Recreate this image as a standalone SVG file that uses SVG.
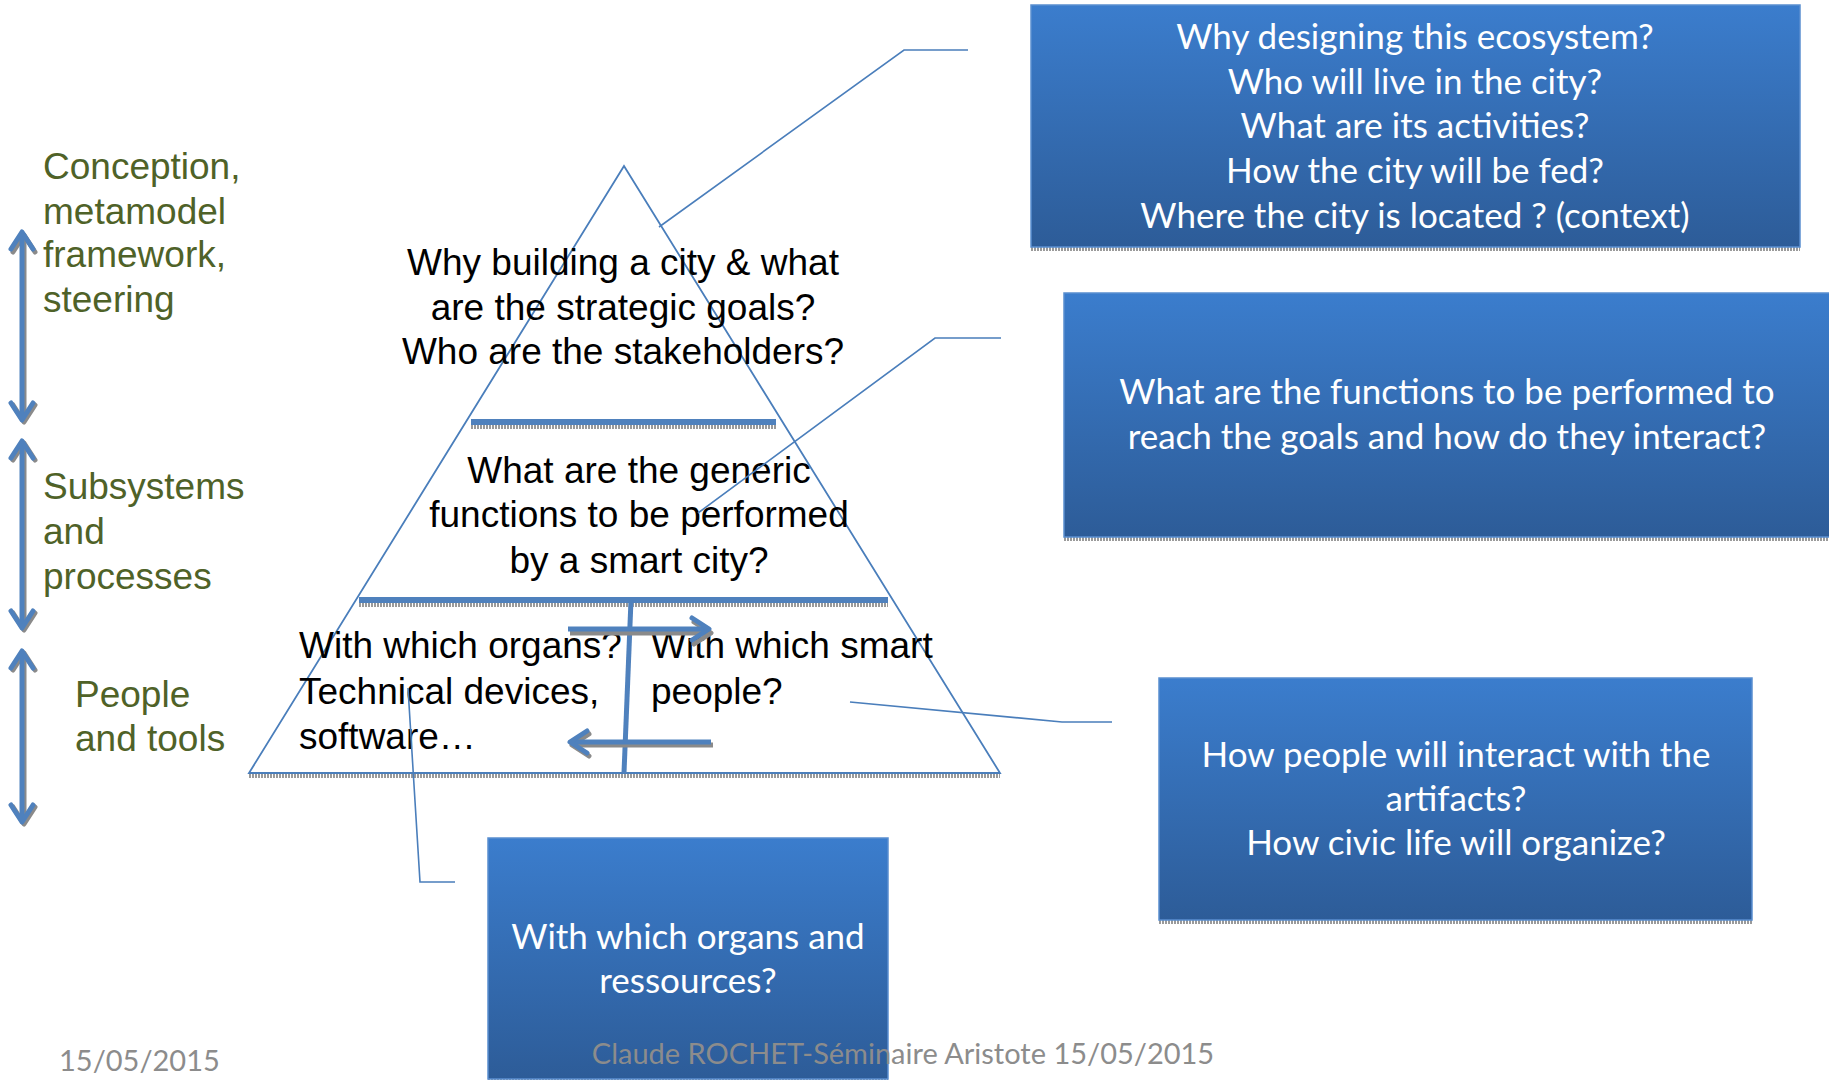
<svg xmlns="http://www.w3.org/2000/svg" width="1829" height="1080" viewBox="0 0 1829 1080">
<defs>
<linearGradient id="boxg" x1="0" y1="0" x2="0" y2="1">
<stop offset="0" stop-color="#3B7DCD"/>
<stop offset="1" stop-color="#2D5C98"/>
</linearGradient>
<marker id="chev" markerUnits="userSpaceOnUse" viewBox="0 0 24 28" refX="20" refY="14" markerWidth="24" markerHeight="28" orient="auto-start-reverse">
<path d="M3,3 L20,14 L3,25" fill="none" stroke="#4F81BD" stroke-width="5" stroke-linecap="round" stroke-linejoin="round"/>
</marker>
<marker id="chevs" markerUnits="userSpaceOnUse" viewBox="0 0 24 28" refX="20" refY="14" markerWidth="24" markerHeight="28" orient="auto-start-reverse">
<path d="M3,3 L20,14 L3,25" fill="none" stroke="#8a8a8a" stroke-width="5" stroke-linecap="round" stroke-linejoin="round"/>
</marker>
<style>
.box{fill:url(#boxg);stroke:#5A8ED0;stroke-width:1.5}
.bshadow{stroke:#9a9a9a;stroke-width:4;stroke-dasharray:2 1}
.bt{font-family:Lato,"Open Sans",sans-serif;font-size:35px;fill:#ffffff;text-anchor:middle}
.pt{font-family:"Liberation Sans",Arial,sans-serif;font-size:37px;fill:#000000}
.gt{font-family:"Liberation Sans",Arial,sans-serif;font-size:37px;fill:#4F6228}
.thin{fill:none;stroke:#4A7EBB;stroke-width:1.6}
.thick{fill:none;stroke:#4F81BD;stroke-width:6}
.tshadow{fill:none;stroke:#9a9a9a;stroke-width:4;stroke-dasharray:2 1}
.foot{font-family:Lato,"Open Sans",sans-serif;font-size:29px;fill:#8C8C8C}
</style>
</defs>

<g id="side-arrows">
<line x1="24" y1="235" x2="24" y2="422" stroke="#8a8a8a" stroke-width="5" marker-start="url(#chevs)" marker-end="url(#chevs)"/>
<line x1="22" y1="232" x2="22" y2="420" stroke="#4F81BD" stroke-width="5" marker-start="url(#chev)" marker-end="url(#chev)"/>
<line x1="24" y1="443" x2="24" y2="630" stroke="#8a8a8a" stroke-width="5" marker-start="url(#chevs)" marker-end="url(#chevs)"/>
<line x1="22" y1="441" x2="22" y2="628" stroke="#4F81BD" stroke-width="5" marker-start="url(#chev)" marker-end="url(#chev)"/>
<line x1="24" y1="653" x2="24" y2="824" stroke="#8a8a8a" stroke-width="5" marker-start="url(#chevs)" marker-end="url(#chevs)"/>
<line x1="22" y1="651" x2="22" y2="822" stroke="#4F81BD" stroke-width="5" marker-start="url(#chev)" marker-end="url(#chev)"/>
</g>

<g id="label-conception">
<text class="gt" x="43" y="179">Conception,</text>
<text class="gt" x="43" y="224">metamodel</text>
<text class="gt" x="43" y="267">framework,</text>
<text class="gt" x="43" y="312">steering</text>
</g>
<g id="label-subsystems">
<text class="gt" x="43" y="499">Subsystems</text>
<text class="gt" x="43" y="544">and</text>
<text class="gt" x="43" y="589">processes</text>
</g>
<g id="label-people">
<text class="gt" x="75" y="707">People</text>
<text class="gt" x="75" y="751">and tools</text>
</g>

<g id="pyramid">
<line x1="249" y1="776" x2="1000" y2="776" class="tshadow"/>
<polygon points="624,166 249,773 1000,773" fill="none" stroke="#4A7EBB" stroke-width="1.8"/>
<line x1="471" y1="427" x2="776" y2="427" class="tshadow"/>
<line x1="471" y1="422" x2="776" y2="422" class="thick"/>
<line x1="359" y1="605" x2="888" y2="605" class="tshadow"/>
<line x1="359" y1="600" x2="888" y2="600" class="thick"/>
<line x1="631" y1="600" x2="624" y2="773" stroke="#4F81BD" stroke-width="5"/>
</g>

<g id="pyramid-top-text">
<text class="pt" text-anchor="middle" x="623" y="275">Why building a city &amp; what</text>
<text class="pt" text-anchor="middle" x="623" y="320">are the strategic goals?</text>
<text class="pt" text-anchor="middle" x="623" y="364">Who are the stakeholders?</text>
</g>
<g id="pyramid-mid-text">
<text class="pt" text-anchor="middle" x="639" y="483">What are the generic</text>
<text class="pt" text-anchor="middle" x="639" y="527">functions to be performed</text>
<text class="pt" text-anchor="middle" x="639" y="573">by a smart city?</text>
</g>
<g id="pyramid-organs-text">
<text class="pt" x="299" y="658">With which organs?</text>
<text class="pt" x="299" y="704">Technical devices,</text>
<text class="pt" x="299" y="749">software…</text>
</g>
<g id="pyramid-people-text">
<text class="pt" x="651" y="658">With which smart</text>
<text class="pt" x="651" y="704">people?</text>
</g>

<g id="inner-arrows">
<line x1="570" y1="633" x2="711" y2="633" stroke="#8a8a8a" stroke-width="5" marker-end="url(#chevs)"/>
<line x1="568" y1="629" x2="709" y2="629" stroke="#4F81BD" stroke-width="5" marker-end="url(#chev)"/>
<line x1="713" y1="745" x2="572" y2="745" stroke="#8a8a8a" stroke-width="5" marker-end="url(#chevs)"/>
<line x1="711" y1="742" x2="570" y2="742" stroke="#4F81BD" stroke-width="5" marker-end="url(#chev)"/>
</g>

<g id="connectors">
<polyline class="thin" points="659,227 904,50 968,50"/>
<polyline class="thin" points="698,513 935,338 1001,338"/>
<polyline class="thin" points="850,702 1062,722 1112,722"/>
<polyline class="thin" points="408,688 420,882 455,882"/>
</g>

<g id="box-why">
<line class="bshadow" x1="1031" y1="249" x2="1800" y2="249"/>
<rect class="box" x="1031" y="5" width="769" height="242"/>
<text class="bt" x="1415" y="49">Why designing this ecosystem?</text>
<text class="bt" x="1415" y="94">Who will live in the city?</text>
<text class="bt" x="1415" y="138">What are its activities?</text>
<text class="bt" x="1415" y="183">How the city will be fed?</text>
<text class="bt" x="1415" y="228">Where the city is located ? (context)</text>
</g>

<g id="box-functions">
<line class="bshadow" x1="1064" y1="539" x2="1829" y2="539"/>
<rect class="box" x="1064" y="293" width="770" height="244"/>
<text class="bt" x="1447" y="404">What are the functions to be performed to</text>
<text class="bt" x="1447" y="449">reach the goals and how do they interact?</text>
</g>

<g id="box-people">
<line class="bshadow" x1="1159" y1="922" x2="1752" y2="922"/>
<rect class="box" x="1159" y="678" width="593" height="242"/>
<text class="bt" x="1456" y="767">How people will interact with the</text>
<text class="bt" x="1456" y="811">artifacts?</text>
<text class="bt" x="1456" y="855">How civic life will organize?</text>
</g>

<g id="box-organs">
<line class="bshadow" x1="488" y1="1078" x2="888" y2="1078"/>
<rect class="box" x="488" y="838" width="400" height="241"/>
<text class="bt" x="688" y="949">With which organs and</text>
<text class="bt" x="688" y="993">ressources?</text>
</g>

<g id="footer">
<text class="foot" x="903" y="1064" text-anchor="middle">Claude ROCHET-Séminaire Aristote 15/05/2015</text>
<text class="foot" x="59" y="1071">15/05/2015</text>
</g>
</svg>
